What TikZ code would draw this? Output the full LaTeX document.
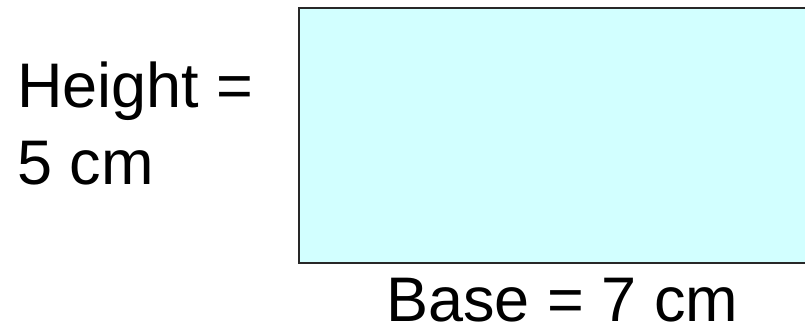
\documentclass[tikz,border=0pt]{standalone}
\usepackage{fontspec}
\setmainfont{Liberation Sans}
\definecolor{boxfill}{RGB}{210,255,255}
\definecolor{boxline}{RGB}{40,40,40}
\begin{document}
\begin{tikzpicture}[x=1pt,y=1pt,
  lbl/.style={anchor=base west,inner sep=0pt,font=\fontsize{63}{77}\selectfont}]
\useasboundingbox (0,0) rectangle (805,336);
\clip (0,0) rectangle (805,336);
\draw[boxline,fill=boxfill,line width=1.5pt] (299,328) rectangle (812,73);
\node[lbl] (h1) at (17,228) {Height =};
\node[lbl] (h2) at (17,151) {5 cm};
\node[lbl] (b) at (386,14) {Base = 7 cm};
\end{tikzpicture}
\end{document}
